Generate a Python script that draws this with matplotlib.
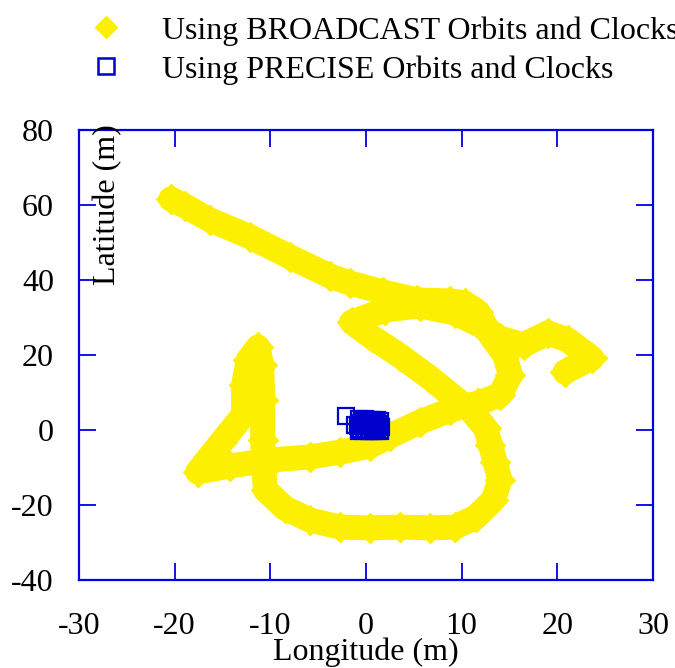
# broadcast vs precise orbit/clock positioning scatter (lat/lon error in m)

import matplotlib.pyplot as plt
from matplotlib.lines import Line2D

# BROADCAST solution track (longitude, latitude in m)
broadcast_lon = [20.8, 23.6, 21.1, 19.0, 16.5, 14.0, 12.1, 9.3, 5.6, 2.0, -1.5,
                 0.6, 3.6, 6.7, 9.3, 11.1, 12.5, 13.0, 13.5, 14.0, 13.3, 11.5,
                 9.3, 6.7, 3.6, 0.4, -2.7, -5.9, -8.5, -10.5, -10.7, -10.8,
                 -10.8, -10.9, -11.3, -12.3, -12.8, -12.8, -15.1, -17.6, -14.2,
                 -10.0, -5.9, -2.7, 0.4, 2.5, 5.6, 8.8, 11.7, 14.0, 15.1, 14.5,
                 13.0, 11.7, 10.3, 8.8, 5.3, 1.8, -1.7, -3.8, -7.9, -12.1,
                 -16.3, -18.9, -20.4]
broadcast_lat = [15.5, 19.2, 24.0, 25.9, 22.7, 24.5, 27.7, 31.2, 33.1, 32.0, 28.8,
                 24.8, 19.7, 13.9, 8.5, 4.8, 0.5, -4.0, -8.5, -13.3, -18.7, -23.2,
                 -25.9, -26.1, -25.9, -26.1, -25.9, -24.0, -20.8, -16.0, -10.7,
                 -2.7, 8.0, 17.3, 22.1, 18.7, 12.0, 4.0, -3.2, -11.2, -9.6,
                 -8.0, -7.2, -5.9, -4.3, -1.6, 2.1, 5.3, 7.2, 9.3, 14.7, 20.0,
                 25.3, 31.5, 33.9, 34.4, 34.7, 36.8, 39.2, 41.1, 46.1, 51.5,
                 56.0, 59.7, 61.6]

# PRECISE solution cluster
precise_lon = [-2.1, -1.1, -0.7, -0.4, -0.1, 0.3, 0.7, 1.1, 1.5, -0.6, -0.2, 0.2,
               0.6, 1.0, 1.4, -0.8, -0.3, 0.1, 0.5, 0.9, 1.3, 1.6, -0.5, 0.0,
               0.4, 0.8, 1.2, 1.5, -0.7, -0.2, 0.3, 0.7, 1.1, 1.5]
precise_lat = [3.7, 1.3, 2.9, 2.8, 2.9, 2.7, 2.8, 2.6, 2.3, 2.0, 2.1, 1.9,
               2.0, 1.8, 1.7, 1.1, 1.0, 1.2, 1.1, 0.9, 1.0, 0.8, 0.3, 0.2,
               0.4, 0.1, 0.2, 0.0, -0.3, -0.2, -0.3, -0.2, -0.3, -0.2]

yellow = '#fcf000'
blue = '#0000cc'
frame = '#0000e6'

plt.rcParams['font.family'] = ['Liberation Serif', 'DejaVu Serif']
plt.rcParams['font.size'] = 23
plt.rcParams['axes.unicode_minus'] = False

fig = plt.figure(figsize=(6.75, 6.68), dpi=100)
ax = fig.add_axes((79 / 675, 1 - 580 / 668, 574 / 675, 450 / 668))

ax.plot(broadcast_lon, broadcast_lat, color=yellow, lw=18,
        solid_joinstyle='round', solid_capstyle='round',
        marker='D', ms=15, mec=yellow, mfc=yellow, zorder=2)
ax.plot(precise_lon, precise_lat, ls='none', marker='s', ms=11.5,
        mfc='none', mec=blue, mew=1.6, zorder=3)

ax.set_xlim(-30, 30)
ax.set_ylim(-40, 80)
ax.set_xticks(range(-30, 31, 10))
ax.set_yticks(range(-40, 81, 20))

for s in ax.spines.values():
    s.set_color(frame)
    s.set_linewidth(1.6)
ax.tick_params(direction='in', length=12, width=1.3, color=frame,
               top=True, right=True, labelsize=23)
ax.tick_params(axis='x', pad=23)
ax.tick_params(axis='y', pad=18)

ax.set_xlabel('Longitude (m)')
ax.xaxis.set_label_coords(0.5, -0.128)
ax.text(0.049, 1.012, 'Latitude (m)', rotation=90, transform=ax.transAxes,
        ha='center', va='top')

handles = [
    Line2D([], [], ls='none', marker='D', ms=11, mfc=yellow, mec=yellow),
    Line2D([], [], ls='none', marker='s', ms=11, mfc='none', mec=blue, mew=1.8),
]
fig.legend(handles, ['Using BROADCAST Orbits and Clocks',
                     'Using PRECISE Orbits and Clocks'],
           loc='upper left', bbox_to_anchor=(90 / 675, 1 - 16 / 668),
           frameon=False, borderpad=0, borderaxespad=0, handlelength=1.0,
           handletextpad=1.24, labelspacing=0.3, fontsize=23)

fig.savefig('out.png', dpi=100)
